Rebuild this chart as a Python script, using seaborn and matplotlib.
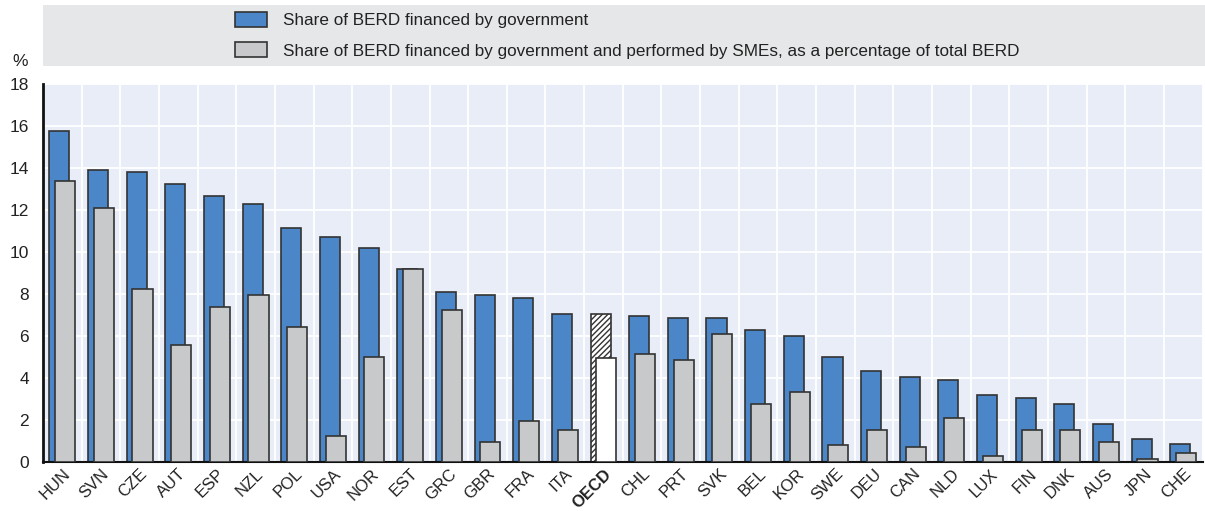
import numpy as np
import pandas as pd
import matplotlib.pyplot as plt
import matplotlib.patches as mpatches
import seaborn as sns

countries = ['HUN', 'SVN', 'CZE', 'AUT', 'ESP', 'NZL', 'POL', 'USA', 'NOR', 'EST',
             'GRC', 'GBR', 'FRA', 'ITA', 'OECD', 'CHL', 'PRT', 'SVK', 'BEL', 'KOR',
             'SWE', 'DEU', 'CAN', 'NLD', 'LUX', 'FIN', 'DNK', 'AUS', 'JPN', 'CHE']
gov_share = [15.76, 13.9, 13.8, 13.24, 12.68, 12.27, 11.14, 10.73, 10.17, 9.19,
             8.08, 7.95, 7.81, 7.06, 7.06, 6.97, 6.84, 6.84, 6.27, 6.02,
             5.02, 4.32, 4.03, 3.90, 3.21, 3.06, 2.78, 1.81, 1.11, 0.84]
sme_share = [13.38, 12.1, 8.22, 5.57, 7.38, 7.94, 6.41, 1.25, 5.02, 9.19,
             7.25, 0.97, 1.95, 1.54, 4.97, 5.16, 4.87, 6.11, 2.78, 3.35,
             0.83, 1.54, 0.70, 2.08, 0.27, 1.54, 1.54, 0.97, 0.13, 0.41]
labels = ['Share of BERD financed by government',
          'Share of BERD financed by government and performed by SMEs, as a percentage of total BERD']

BLUE = '#4a86c8'
GREY = '#c8c9cb'
EDGE = '#333333'

sns.set_style('white')
plt.rcParams['font.family'] = ['Liberation Sans Narrow', 'Liberation Sans', 'DejaVu Sans']
plt.rcParams['hatch.linewidth'] = 1.0

df = pd.DataFrame({'country': countries, 'gov': gov_share, 'sme': sme_share})

fig = plt.figure(figsize=(12.05, 5.11), dpi=100)
ax = fig.add_axes([43 / 1205, 49 / 511, 1 - 43 / 1205 - 0.002, 378 / 511])
ax.set_facecolor('#e9edf7')

sns.barplot(data=df, x='country', y='gov', ax=ax, color=BLUE, width=0.52,
            edgecolor=EDGE, linewidth=1.2, saturation=1, zorder=2)
n = len(countries)
sns.barplot(data=df, x='country', y='sme', ax=ax, color=GREY, width=0.52,
            edgecolor=EDGE, linewidth=1.2, saturation=1, zorder=3)

# offset the two overlapping series
for i, p in enumerate(ax.patches):
    shift = -0.075 if i < n else 0.075
    p.set_x(p.get_x() + shift)
    if countries[i % n] == 'OECD':
        p.set_facecolor('white')
        if i < n:
            p.set_hatch('//////')

ax.set_xlim(-0.5, n - 0.5)
ax.set_ylim(0, 18)
ax.set_yticks(range(0, 19, 2))
ax.set_xlabel('')
ax.set_ylabel('')

# grid
ax.set_xticks(np.arange(-0.5, n, 1), minor=True)
ax.grid(True, which='major', axis='y', color='white', linewidth=1.3, zorder=0)
ax.grid(True, which='minor', axis='x', color='white', linewidth=1.3, zorder=0)
ax.set_axisbelow(True)

ax.tick_params(axis='y', length=0, labelsize=12.5, pad=10, labelcolor='#222222')
ax.tick_params(axis='x', which='major', length=0, labelsize=12, pad=3, labelcolor='#222222')
ax.tick_params(axis='x', which='minor', direction='in', length=6, color='#666666', width=1)
ax.set_xticks(range(n))
ax.set_xticklabels(countries, rotation=45, ha='right', rotation_mode='anchor')
for t in ax.get_xticklabels():
    if t.get_text() == 'OECD':
        t.set_fontweight('bold')

for side in ['top', 'right']:
    ax.spines[side].set_visible(False)
ax.spines['left'].set_color('#111111')
ax.spines['left'].set_linewidth(2)
ax.spines['bottom'].set_color('#111111')
ax.spines['bottom'].set_linewidth(1.5)

fig.text(12 / 1205, 1 - 62 / 511, '%', fontsize=12.5, color='#222222', va='center')

# legend panel
fig.patches.append(mpatches.Rectangle((43 / 1205, 1 - 66 / 511), 1 - 43 / 1205, 61 / 511,
                                      transform=fig.transFigure, facecolor='#e6e7e9',
                                      edgecolor='none', zorder=0))
handles = [mpatches.Patch(facecolor=BLUE, edgecolor=EDGE, linewidth=1.2),
           mpatches.Patch(facecolor=GREY, edgecolor=EDGE, linewidth=1.2)]
fig.legend(handles, labels, loc='upper left', bbox_to_anchor=(235 / 1205, 1 - 12 / 511),
           frameon=False, fontsize=12.3, handlelength=1.9, handleheight=1.0,
           labelspacing=0.8, handletextpad=0.9, borderpad=0, borderaxespad=0,
           labelcolor='#222222')

fig.savefig('out.png', dpi=100)
